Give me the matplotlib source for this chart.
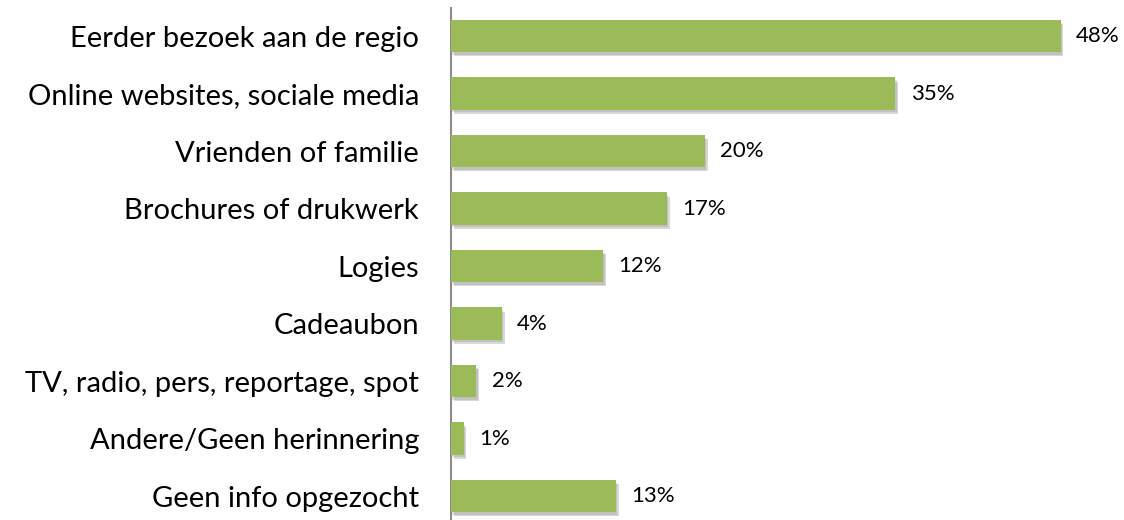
import matplotlib.pyplot as plt
import matplotlib.patheffects as pe

# DATA
labels = ["Eerder bezoek aan de regio", "Online websites, sociale media",
          "Vrienden of familie", "Brochures of drukwerk", "Logies",
          "Cadeaubon", "TV, radio, pers, reportage, spot",
          "Andere/Geen herinnering", "Geen info opgezocht"]
values = [48, 35, 20, 17, 12, 4, 2, 1, 13]

plt.rcParams['font.family'] = ['Lato', 'DejaVu Sans']

fig = plt.figure(figsize=(11.24, 5.2), dpi=100)
ax = fig.add_axes([451 / 1124, 0, 1 - 451 / 1124, 1 - 8 / 520])

pos = list(range(len(values)))
bars = ax.barh(pos, values, height=0.56, color="#9BBB59", zorder=3)
for b in bars:
    b.set_path_effects([pe.SimplePatchShadow(offset=(2, -3), shadow_rgbFace="#666666", alpha=0.25),
                        pe.SimplePatchShadow(offset=(1, -2), shadow_rgbFace="#666666", alpha=0.2),
                        pe.Normal()])

for p, v in zip(pos, values):
    ax.text(v + 1.2, p, f"{v}%", va="center", ha="left", fontsize=16, color="black")

ax.set_ylim(8.417, -0.487)
ax.set_xlim(0, 53.0)
ax.set_yticks(pos)
ax.set_yticklabels(labels, fontsize=21)
ax.tick_params(axis="y", length=0, pad=23)
ax.set_xticks([])
for s in ["top", "right", "bottom"]:
    ax.spines[s].set_visible(False)
ax.spines["left"].set_color("#8c8c8c")
ax.spines["left"].set_linewidth(1.5)

fig.savefig("out.png", dpi=100)
